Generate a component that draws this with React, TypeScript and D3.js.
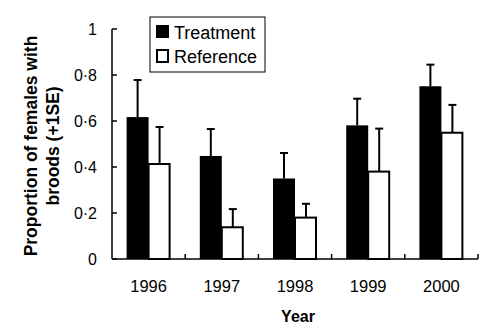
import React from "react";
import * as d3 from "d3";

const years = ["1996", "1997", "1998", "1999", "2000"];
const treatment = [0.617, 0.448, 0.35, 0.581, 0.751];
const treatmentSE = [0.161, 0.117, 0.111, 0.116, 0.094];
const reference = [0.413, 0.138, 0.18, 0.38, 0.549];
const referenceSE = [0.161, 0.079, 0.06, 0.187, 0.121];
const yTicks = [0, 0.2, 0.4, 0.6, 0.8, 1];
const yTickLabels = ["0", "0·2", "0·4", "0·6", "0·8", "1"];

const W = 490;
const H = 331;
const left = 112;
const right = 478;
const top = 29;
const bottom = 259;
const FONT = "'Liberation Sans', Arial, Helvetica, sans-serif";

export default function App() {
  const x = d3.scaleBand<string>().domain(years).range([left, right]).padding(0);
  const y = d3.scaleLinear().domain([0, 1]).range([bottom, top]);
  const barW = 22;
  const capW = 8;

  const bounds = [...years.map((yr) => x(yr)!), right].slice(1);

  return (
    <svg
      width={W}
      height={H}
      style={{ position: "absolute", left: 0, top: 0, background: "#fff" }}
      fontFamily={FONT}
    >
      {years.map((yr, i) => {
        const cx = x(yr)! + x.bandwidth() / 2;
        const tx = cx - barW;
        const rx = cx;
        const tTop = y(treatment[i] + treatmentSE[i]);
        const rTop = y(reference[i] + referenceSE[i]);
        return (
          <g key={yr}>
            <line x1={tx + barW / 2} x2={tx + barW / 2} y1={y(treatment[i])} y2={tTop} stroke="#000" strokeWidth={2} />
            <line x1={tx + barW / 2 - capW / 2} x2={tx + barW / 2 + capW / 2} y1={tTop} y2={tTop} stroke="#000" strokeWidth={2} />
            <rect x={tx} y={y(treatment[i])} width={barW} height={bottom - y(treatment[i])} fill="#000" />
            <line x1={rx + barW / 2} x2={rx + barW / 2} y1={y(reference[i])} y2={rTop} stroke="#000" strokeWidth={2} />
            <line x1={rx + barW / 2 - capW / 2} x2={rx + barW / 2 + capW / 2} y1={rTop} y2={rTop} stroke="#000" strokeWidth={2} />
            <rect x={rx} y={y(reference[i])} width={barW - 1} height={bottom - y(reference[i])} fill="#fff" stroke="#000" strokeWidth={2} />
          </g>
        );
      })}

      <line x1={left} x2={left} y1={top} y2={bottom} stroke="#000" strokeWidth={1.5} />
      <line x1={left} x2={right} y1={bottom} y2={bottom} stroke="#000" strokeWidth={1.5} />
      {yTicks.map((t, i) => (
        <g key={t}>
          <line x1={left} x2={left + 5} y1={y(t)} y2={y(t)} stroke="#000" strokeWidth={1.5} />
          <text x={97} y={y(t)} dy="0.36em" textAnchor="end" fontSize={16} fill="#000">
            {yTickLabels[i]}
          </text>
        </g>
      ))}
      {bounds.map((b) => (
        <line key={b} x1={b} x2={b} y1={bottom} y2={bottom - 5} stroke="#000" strokeWidth={1.5} />
      ))}
      {years.map((yr) => (
        <text key={yr} x={x(yr)! + x.bandwidth() / 2} y={292} textAnchor="middle" fontSize={16.5} fill="#000">
          {yr}
        </text>
      ))}
      <text x={298} y={322} textAnchor="middle" fontSize={16} fontWeight="bold" fill="#000">
        Year
      </text>
      <g transform={`translate(37,146) rotate(-90)`}>
        <text x={0} y={0} textAnchor="middle" fontSize={17.5} fontWeight="bold" fill="#000">
          Proportion of females with
        </text>
        <text x={0} y={22} textAnchor="middle" fontSize={17.5} fontWeight="bold" fill="#000">
          broods (+1SE)
        </text>
      </g>

      <rect x={150} y={17} width={115} height={55} fill="#fff" stroke="#000" strokeWidth={1} />
      <rect x={156} y={25} width={13} height={13} fill="#000" />
      <text x={174} y={38.5} fontSize={18} fill="#000">Treatment</text>
      <rect x={157} y={50} width={11} height={12} fill="#fff" stroke="#000" strokeWidth={2} />
      <text x={174} y={63} fontSize={18} fill="#000">Reference</text>
    </svg>
  );
}
